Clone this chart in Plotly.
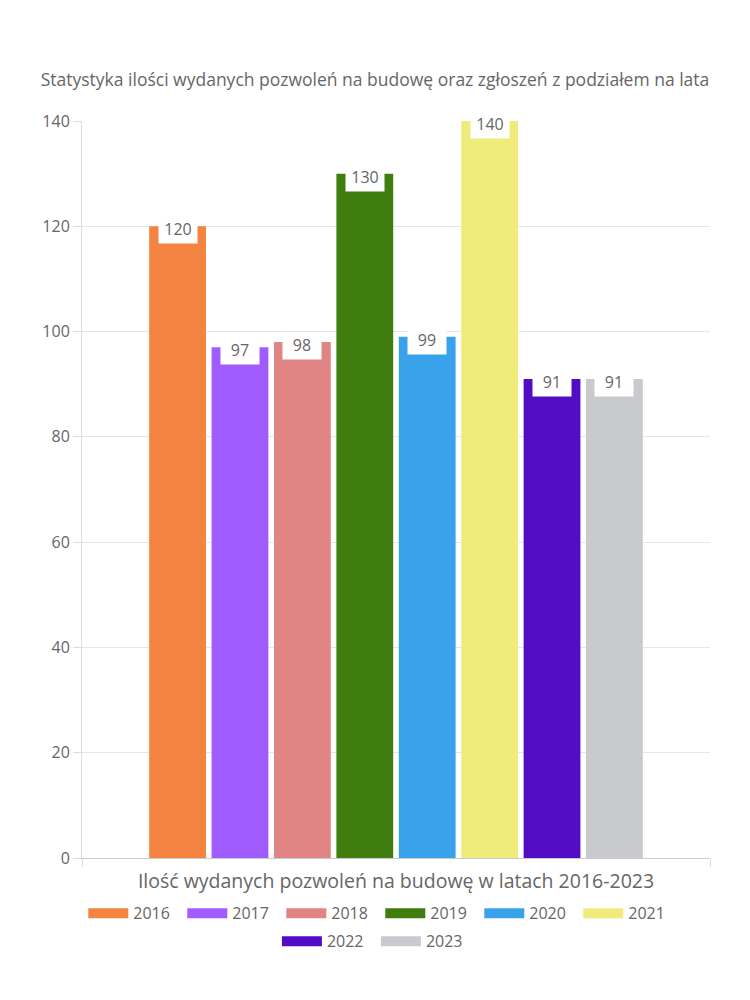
import plotly.graph_objects as go

category = "Ilość wydanych pozwoleń na budowę w latach 2016-2023"
years = ["2016", "2017", "2018", "2019", "2020", "2021", "2022", "2023"]
values = [120, 97, 98, 130, 99, 140, 91, 91]
colors = ["#F58442", "#A05CFF", "#E08484", "#3F7D0E", "#38A3EB", "#F0EC7C", "#520CC4", "#C9CACE"]
yticks = [0, 20, 40, 60, 80, 100, 120, 140]

FONT = "Open Sans, Noto Sans, sans-serif"
TXT = "#666666"
BARGAP = 0.205

fig = go.Figure()
for i, (yr, v, c) in enumerate(zip(years, values, colors)):
    fig.add_trace(go.Bar(x=[category], y=[v], name=yr, marker_color=c,
                         marker_line_width=0, showlegend=False, legendgroup=yr))
    fig.add_trace(go.Scatter(x=[None], y=[None], mode="lines", name=yr,
                             line=dict(color=c, width=18), legendgroup=yr,
                             legend="legend" if i < 6 else "legend2"))

n = len(years)
slot = (1 - BARGAP) / n
for i, v in enumerate(values):
    fig.add_annotation(x=(i - (n - 1) / 2) * slot, y=v, xref="x", yref="y",
                       text=str(v), showarrow=False, yanchor="top", yshift=10,
                       bgcolor="white", width=36, height=24, valign="top",
                       font=dict(family=FONT, size=16, color=TXT))

fig.update_layout(
    width=750, height=1000,
    margin=dict(l=82, r=40, t=121, b=142),
    paper_bgcolor="white", plot_bgcolor="white",
    barmode="group", bargap=BARGAP, bargroupgap=0.09,
    font=dict(family=FONT, color=TXT, size=16),
    title=dict(text="Statystyka ilości wydanych pozwoleń na budowę oraz zgłoszeń z podziałem na lata",
               x=0.5, xanchor="center", y=0.92, yanchor="middle",
               font=dict(family=FONT, size=17.5, color=TXT)),
    xaxis=dict(type="category", tickson="boundaries", showgrid=True, gridcolor="#e6e6e6",
               showline=True, linecolor="#cccccc", ticks="outside", ticklen=8, tickcolor="#dddddd",
               ticklabelstandoff=6,
               tickfont=dict(family=FONT, size=19.5, color=TXT)),
    yaxis=dict(range=[0, 140], tickvals=yticks, showgrid=True, gridcolor="#e6e6e6",
               showline=True, linecolor="#dddddd", ticks="outside", ticklen=8, tickcolor="#dddddd",
               zeroline=False, tickfont=dict(family=FONT, size=16, color=TXT)),
    legend=dict(orientation="h", x=0.475, xanchor="center", y=-0.052, yanchor="top",
                font=dict(family=FONT, size=16, color=TXT), itemwidth=40, entrywidth=44),
    legend2=dict(orientation="h", x=0.468, xanchor="center", y=-0.09, yanchor="top",
                 font=dict(family=FONT, size=16, color=TXT), itemwidth=40, entrywidth=44),
)

fig.write_html("out.html")
